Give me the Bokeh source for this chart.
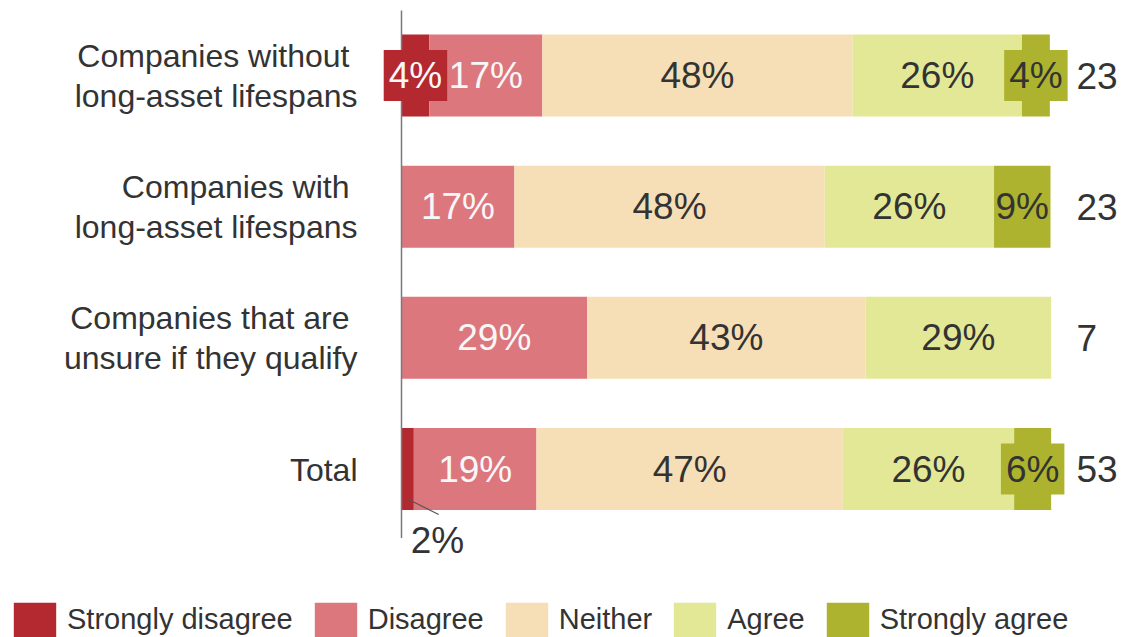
from bokeh.plotting import figure
from bokeh.models import ColumnDataSource, Range1d, Legend, LegendItem
from bokeh.core.properties import value
from bokeh.embed import file_html
from bokeh.resources import INLINE

# ---------------- data ----------------
groups = ["Companies without\nlong-asset lifespans",
          "Companies with\nlong-asset lifespans",
          "Companies that are\nunsure if they qualify",
          "Total"]
responses = ["Strongly disagree", "Disagree", "Neither", "Agree", "Strongly agree"]
strongly_disagree = [4.3, 0.0, 0.0, 1.9]
disagree = [17.4, 17.4, 28.6, 18.9]
neither = [47.8, 47.8, 42.9, 47.2]
agree = [26.1, 26.1, 28.6, 26.4]
strongly_agree = [4.3, 8.7, 0.0, 5.7]
counts = [23, 23, 7, 53]

colors = ["#B4282F", "#DD777E", "#F6DFB6", "#E3E897", "#ADB32E"]
label_colors = ["#F7F7F7", "#F7F7F7", "#333333", "#333333", "#333333"]
TEXT = "#333333"
FONT = "Liberation Sans"

# ---------------- geometry ----------------
W, H = 1122, 637
X0_PX = 401.0          # frame px of value 0
PX_PER_X = 6.49        # px per percentage point
ROW0_PX = 75.0         # frame px of first row centre
ROW_STEP = 131.17      # px between rows
BAR_H = 82.0 / ROW_STEP

x_range = Range1d(-X0_PX / PX_PER_X, (W - X0_PX) / PX_PER_X)
y_range = Range1d(-(H - ROW0_PX) / ROW_STEP, ROW0_PX / ROW_STEP)

p = figure(width=W, height=H, x_range=x_range, y_range=y_range,
           output_backend="svg", toolbar_location=None,
           min_border=0, min_border_left=0, min_border_right=0,
           min_border_top=0, min_border_bottom=0, outline_line_color=None)
p.axis.visible = False
p.grid.visible = False
p.background_fill_color = "white"
p.border_fill_color = "white"

ys = [-i for i in range(len(groups))]
series = [strongly_disagree, disagree, neither, agree, strongly_agree]
data = {"y": ys}
for name, vals in zip(responses, series):
    data[name] = vals
source = ColumnDataSource(data)

renderers = p.hbar_stack(responses, y="y", height=BAR_H, color=colors,
                         line_color=None, source=source)

# axis line
p.segment(x0=[0], y0=[ys[0] + BAR_H / 2 + 24 / ROW_STEP], x1=[0],
          y1=[ys[-1] - BAR_H / 2 - 28 / ROW_STEP],
          line_color="#7A7A7A", line_width=1.5)

# ---------------- segment labels ----------------
norm = dict(x=[], y=[], t=[], c=[])
boxed = {k: dict(x=[], y=[], t=[], c=[]) for k in range(len(responses))}
outside = dict(x=[], y=[], t=[])
lead = dict(x0=[], y0=[], x1=[], y1=[])
for gi, y in enumerate(ys):
    left = 0.0
    for si, vals in enumerate(series):
        v = vals[gi]
        cx = left + v / 2
        left += v
        if v <= 0:
            continue
        t = f"{round(v)}%"
        if v < 3:
            outside["x"].append(cx)
            outside["y"].append(y)
            outside["t"].append(t)
            lead["x0"].append(cx + 1 / PX_PER_X)
            lead["y0"].append(y - 30.5 / ROW_STEP)
            lead["x1"].append(cx + 31 / PX_PER_X)
            lead["y1"].append(y - 45.5 / ROW_STEP)
        elif v < 7:
            boxed[si]["x"].append(cx)
            boxed[si]["y"].append(y)
            boxed[si]["t"].append(t)
            boxed[si]["c"].append(label_colors[si])
        else:
            norm["x"].append(cx)
            norm["y"].append(y)
            norm["t"].append(t)
            norm["c"].append(label_colors[si])

p.text(x="x", y="y", text="t", text_color="c", source=ColumnDataSource(norm),
       text_font=value(FONT), text_font_size="37px",
       text_align="center", text_baseline="middle")

for si, d in boxed.items():
    if not d["x"]:
        continue
    p.text(x="x", y="y", text="t", text_color="c", source=ColumnDataSource(d),
           text_font=value(FONT), text_font_size="37px",
           text_align="center", text_baseline="middle",
           background_fill_color=colors[si], padding=5)

p.segment(x0="x0", y0="y0", x1="x1", y1="y1", source=ColumnDataSource(lead),
          line_color="#555555", line_width=1.2)
p.text(x="x", y="y", text="t", source=ColumnDataSource(outside),
       text_color=TEXT, text_font=value(FONT), text_font_size="37px",
       text_align="left", text_baseline="middle", x_offset=3, y_offset=71)

# ---------------- category labels ----------------
cat = dict(x=[], y=[], t=[], xo=[], yo=[])
for g, y in zip(groups, ys):
    lines = g.split("\n")
    if len(lines) == 2:
        cat["x"] += [0, 0]
        cat["y"] += [y, y]
        cat["t"] += lines
        cat["xo"] += [-52, -44]
        cat["yo"] += [-20, 20]
    else:
        cat["x"].append(0)
        cat["y"].append(y)
        cat["t"].append(lines[0])
        cat["xo"].append(-44)
        cat["yo"].append(1)
p.text(x="x", y="y", text="t", x_offset="xo", y_offset="yo",
       source=ColumnDataSource(cat), text_color=TEXT,
       text_font=value(FONT), text_font_size="32px",
       text_align="right", text_baseline="middle")

# ---------------- counts ----------------
p.text(x=[100] * len(counts), y=ys, text=[str(c) for c in counts],
       text_color=TEXT, text_font=value(FONT), text_font_size="37px",
       text_align="left", text_baseline="middle", x_offset=26)

# ---------------- legend ----------------
legend = Legend(items=[LegendItem(label=r_name, renderers=[r])
                       for r_name, r in zip(responses, renderers)],
                orientation="horizontal", location=(8, -4),
                glyph_width=53, glyph_height=43, label_standoff=6,
                spacing=16, padding=0, margin=0,
                label_text_font=FONT, label_text_font_size="29px",
                label_text_color=TEXT, label_height=43,
                border_line_color=None, background_fill_alpha=0)
p.add_layout(legend)

open("out.html", "w").write(file_html(p, INLINE))
